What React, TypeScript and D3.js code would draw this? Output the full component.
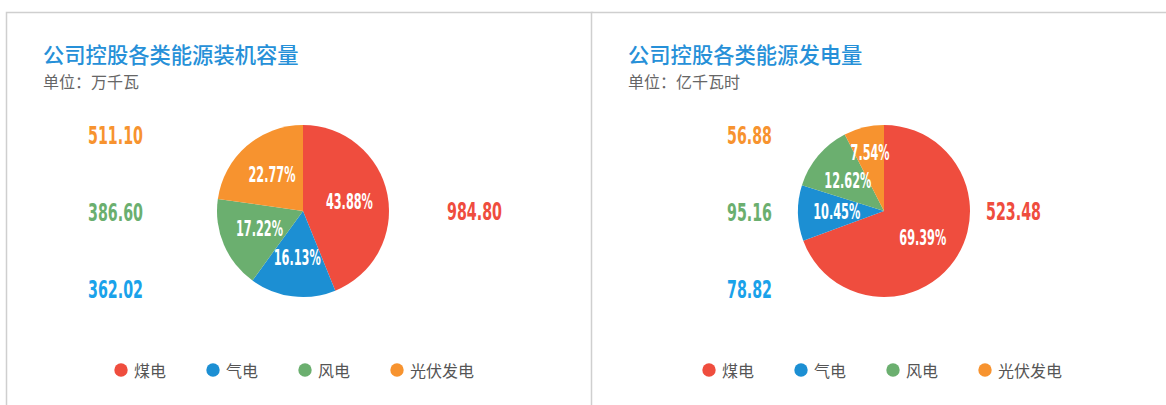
import React from 'react';
import * as d3 from 'd3';

const categories = ['煤电', '气电', '风电', '光伏发电'];
const colors = ['#EF4D3E', '#1C8FD3', '#6BAF6F', '#F7932F'];
const valueColors = ['#EF4D3E', '#1AA2EA', '#6BAF6F', '#F7932F'];

const capacityTitle = '公司控股各类能源装机容量';
const capacityUnit = '单位：万千瓦';
const capacityValues = [984.8, 362.02, 386.6, 511.1];
const capacityLabels = ['984.80', '362.02', '386.60', '511.10'];
const capacityPercents = ['43.88%', '16.13%', '17.22%', '22.77%'];

const generationTitle = '公司控股各类能源发电量';
const generationUnit = '单位：亿千瓦时';
const generationValues = [523.48, 78.82, 95.16, 56.88];
const generationLabels = ['523.48', '78.82', '95.16', '56.88'];
const generationPercents = ['69.39%', '10.45%', '12.62%', '7.54%'];

const W = 1166;
const H = 405;
const NUM_FONT = '"Liberation Sans Narrow", "DejaVu Sans Condensed", Roboto, Arial, sans-serif';
const CJK_FONT = '"Noto Sans CJK SC", "Noto Sans", sans-serif';

// condensed-number widths (style): digit, dot, percent
function textWidth(s: string, digit: number, dot: number, pct: number) {
  let w = 0;
  for (const ch of s) w += ch === '.' ? dot : ch === '%' ? pct : digit;
  return w;
}

type PanelProps = {
  x0: number;
  width: number;
  title: string;
  unit: string;
  values: number[];
  labels: string[];
  percents: string[];
  cx: number;
  leftColX: number;
  rightColX: number;
  legendX: number;
};

function Panel(p: PanelProps) {
  const r = 86;
  const cy = 211;
  const pie = d3.pie<number>().sort(null).value((d) => d);
  const arcs = pie(p.values);
  const arc = d3.arc<d3.PieArcDatum<number>>().innerRadius(0).outerRadius(r);

  // inside labels with simple collision avoidance (push outward)
  const order = arcs.map((_, i) => i).sort((a, b) => p.values[b] - p.values[a]);
  const placed: { i: number; x: number; y: number; w: number; h: number }[] = [];
  order.forEach((i) => {
    const a = arcs[i];
    const mid = (a.startAngle + a.endAngle) / 2;
    const w = textWidth(p.percents[i], 8, 4, 11);
    const h = 16;
    let k = 0.55;
    let x = 0;
    let y = 0;
    for (; k < 0.9; k += 0.02) {
      x = Math.sin(mid) * r * k;
      y = -Math.cos(mid) * r * k;
      const hit = placed.some((q) => Math.abs(q.x - x) < (q.w + w) / 2 && Math.abs(q.y - y) < (q.h + h) / 2 + 10);
      if (!hit) break;
    }
    placed.push({ i, x, y, w, h });
  });
  placed.sort((a, b) => a.i - b.i);

  const rowY = d3.scalePoint<number>().domain([3, 2, 1]).range([135, 289]);
  const legendStep = 92;
  return (
    <g>
      <rect x={p.x0 + 0.5} y={12.5} width={p.width} height={H + 20} fill="#fff" stroke="#cfcfcf" strokeWidth={1.5} />
      <text x={p.x0 + 37} y={53} dominantBaseline="central" fontFamily={CJK_FONT} fontSize={21.3} fontWeight={500} fill="#2690D8">
        {p.title}
      </text>
      <text x={p.x0 + 37} y={81} dominantBaseline="central" fontFamily={CJK_FONT} fontSize={16} fill="#666">
        {p.unit}
      </text>
      <g transform={`translate(${p.cx},${cy})`}>
        {arcs.map((a, i) => (
          <path key={i} d={arc(a) || ''} fill={colors[i]} />
        ))}
        {placed.map((q) => (
          <text
            key={'l' + q.i}
            x={q.x}
            y={q.y}
            textAnchor="middle"
            dominantBaseline="central"
            fontFamily={NUM_FONT}
            fontWeight="bold"
            fontSize={21}
            fill="#fff"
            textLength={q.w}
            lengthAdjust="spacingAndGlyphs"
          >
            {p.percents[q.i]}
          </text>
        ))}
      </g>
      {p.labels.map((lab, i) => {
        const x = i === 0 ? p.rightColX : p.leftColX;
        const y = i === 0 ? cy : (rowY(i) as number);
        return (
          <text
            key={'v' + i}
            x={x}
            y={y}
            dominantBaseline="central"
            fontFamily={NUM_FONT}
            fontWeight="bold"
            fontSize={25}
            fill={valueColors[i]}
            textLength={textWidth(lab, 10, 5, 10)}
            lengthAdjust="spacingAndGlyphs"
          >
            {lab}
          </text>
        );
      })}
      {categories.map((c, i) => (
        <g key={'g' + i} transform={`translate(${p.legendX + i * legendStep},370)`}>
          <circle r={6.7} fill={colors[i]} />
          <text x={13} dominantBaseline="central" fontFamily={CJK_FONT} fontSize={16} fill="#555">
            {c}
          </text>
        </g>
      ))}
    </g>
  );
}

export default function App() {
  return (
    <svg width={W} height={H} style={{ position: 'absolute', left: 0, top: 0, background: '#fff' }}>
      <rect width={W} height={H} fill="#fff" />
      <Panel
        x0={6}
        width={586}
        title={capacityTitle}
        unit={capacityUnit}
        values={capacityValues}
        labels={capacityLabels}
        percents={capacityPercents}
        cx={303}
        leftColX={88}
        rightColX={447}
        legendX={121}
      />
      <Panel
        x0={591}
        width={586}
        title={generationTitle}
        unit={generationUnit}
        values={generationValues}
        labels={generationLabels}
        percents={generationPercents}
        cx={884}
        leftColX={727}
        rightColX={986}
        legendX={709}
      />
    </svg>
  );
}
